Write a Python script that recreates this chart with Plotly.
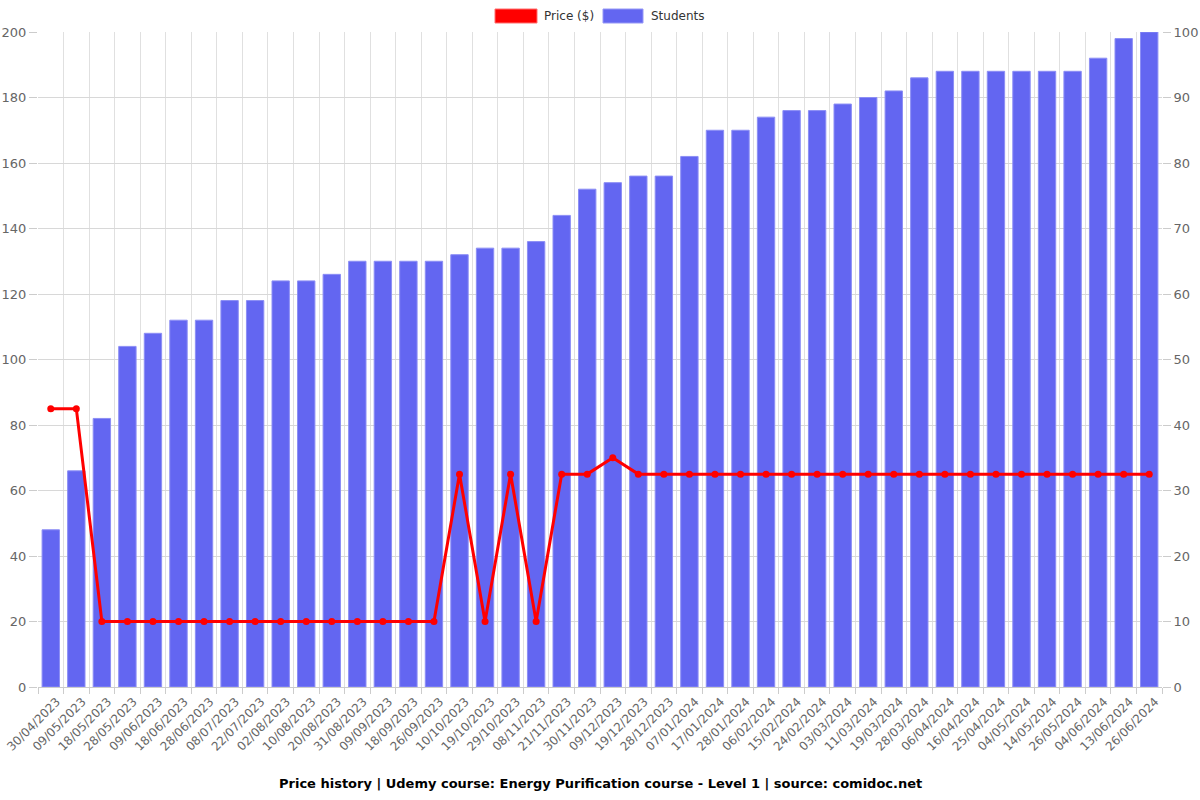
import plotly.graph_objects as go

dates = ["30/04/2023", "09/05/2023", "18/05/2023", "28/05/2023", "09/06/2023", "18/06/2023",
         "28/06/2023", "08/07/2023", "22/07/2023", "02/08/2023", "10/08/2023", "20/08/2023",
         "31/08/2023", "09/09/2023", "18/09/2023", "26/09/2023", "10/10/2023", "19/10/2023",
         "29/10/2023", "08/11/2023", "21/11/2023", "30/11/2023", "09/12/2023", "19/12/2023",
         "28/12/2023", "07/01/2024", "17/01/2024", "28/01/2024", "06/02/2024", "15/02/2024",
         "24/02/2024", "03/03/2024", "11/03/2024", "19/03/2024", "28/03/2024", "06/04/2024",
         "16/04/2024", "25/04/2024", "04/05/2024", "14/05/2024", "26/05/2024", "04/06/2024",
         "13/06/2024", "26/06/2024"]

students = [24, 33, 41, 52, 54, 56, 56, 59, 59, 62, 62, 63, 65, 65, 65, 65, 66, 67, 67, 68,
            72, 76, 77, 78, 78, 81, 85, 85, 87, 88, 88, 89, 90, 91, 93, 94, 94, 94, 94, 94,
            94, 96, 99, 100]

price = [85, 85, 20, 20, 20, 20, 20, 20, 20, 20, 20, 20, 20, 20, 20, 20, 65, 20, 65, 20,
         65, 65, 70, 65, 65, 65, 65, 65, 65, 65, 65, 65, 65, 65, 65, 65, 65, 65, 65, 65,
         65, 65, 65, 65]

left_ticks = list(range(0, 201, 20))
right_ticks = list(range(0, 101, 10))

RED = "#ff0000"
BLUE = "rgb(99,102,241)"

W, H = 1200, 800
ML, MR, MT, MB = 38, 38, 32, 113
PW, PH = W - ML - MR, H - MT - MB


def px(x):
    return (x - ML) / PW


def py(y):
    return (H - MB - y) / PH


fig = go.Figure()

# Students bars on the primary y axis (drawn on the right), so the price line overlays them
fig.add_trace(go.Bar(x=dates, y=students, name="Students", yaxis="y",
                     marker=dict(color=BLUE, line=dict(color="rgba(140,142,245,1)", width=1)),
                     showlegend=False))

fig.add_trace(go.Scatter(x=dates, y=price, name="Price ($)", yaxis="y2", mode="lines+markers",
                         line=dict(color=RED, width=3), marker=dict(color=RED, size=7),
                         showlegend=False))

shapes = [
    dict(type="rect", xref="paper", yref="paper", x0=px(495), x1=px(537), y0=py(23), y1=py(9),
         fillcolor=RED, line=dict(color="rgba(255,110,110,1)", width=1)),
    dict(type="rect", xref="paper", yref="paper", x0=px(603), x1=px(643), y0=py(23), y1=py(9),
         fillcolor=BLUE, line=dict(color="rgba(150,152,246,1)", width=1)),
]

annotations = [
    dict(text="Price ($)", x=px(542), y=py(16), xref="paper", yref="paper", xanchor="left",
         yanchor="middle", showarrow=False, font=dict(size=12, color="#333")),
    dict(text="Students", x=px(649), y=py(16), xref="paper", yref="paper", xanchor="left",
         yanchor="middle", showarrow=False, font=dict(size=12, color="#333")),
    dict(text="<b>Price history | Udemy course: Energy Purification course - Level 1 | source: comidoc.net</b>",
         x=0.5, xref="paper", y=py(783), yref="paper", showarrow=False, yanchor="middle",
         font=dict(size=13, color="#000")),
]

fig.update_layout(
    width=W, height=H,
    margin=dict(l=ML, r=MR, t=MT, b=MB, autoexpand=False),
    paper_bgcolor="white", plot_bgcolor="white",
    barmode="overlay", bargap=0.32,
    font=dict(family="DejaVu Sans", size=12, color="#666"),
    showlegend=False,
    shapes=shapes,
    annotations=annotations,
    xaxis=dict(type="category", tickson="boundaries", showgrid=True, gridcolor="#e0e0e0",
               range=[-0.5, len(dates) - 0.5], autorange=False,
               ticks="outside", ticklen=6, tickcolor="#ccc", tickangle=-45,
               ticklabelshift=6, ticklabelstandoff=2,
               linecolor="#ccc", showline=True, tickfont=dict(size=12, color="#666"),
               automargin=False),
    yaxis=dict(range=[0, 100], tickvals=right_ticks, side="right", showgrid=False,
               ticks="outside", ticklen=8, tickcolor="#ccc", zeroline=False,
               tickfont=dict(size=13, color="#666"), automargin=False),
    yaxis2=dict(range=[0, 200], tickvals=left_ticks, overlaying="y", side="left",
                showgrid=True, gridcolor="#d8d8d8", layer="below traces",
                ticks="outside", ticklen=8, tickcolor="#ccc", zeroline=False,
                tickfont=dict(size=13, color="#666"), automargin=False),
)

fig.write_html("out.html")
